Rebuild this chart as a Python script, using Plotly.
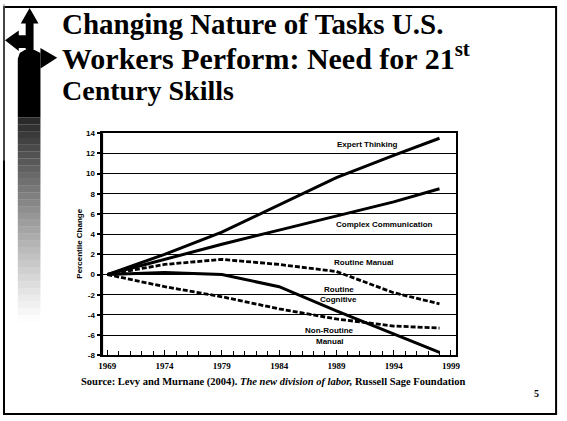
import plotly.graph_objects as go

W, H = 567, 421

# ---------------- data ----------------
years = [1969, 1974, 1979, 1984, 1989, 1994, 1998]
expert_thinking = [0, 2.0, 4.2, 6.9, 9.6, 11.8, 13.5]
complex_communication = [0, 1.5, 3.0, 4.4, 5.8, 7.2, 8.5]
routine_manual = [0, 1.0, 1.5, 1.0, 0.3, -1.8, -2.9]
routine_cognitive = [0, 0.2, 0.0, -1.2, -3.6, -5.9, -7.7]
non_routine_manual = [0, -1.2, -2.2, -3.4, -4.4, -5.1, -5.3]

x_tick_years = [1969, 1974, 1979, 1984, 1989, 1994, 1999]
y_ticks = [-8, -6, -4, -2, 0, 2, 4, 6, 8, 10, 12, 14]

series = [
    ("Expert Thinking", expert_thinking, "solid"),
    ("Complex Communication", complex_communication, "solid"),
    ("Routine Manual", routine_manual, "dash"),
    ("Routine Cognitive", routine_cognitive, "solid"),
    ("Non-Routine Manual", non_routine_manual, "dash"),
]

labels = [
    ("Expert Thinking", 1991.7, 12.9),
    ("Complex Communication", 1993.2, 5.0),
    ("Routine Manual", 1991.4, 1.2),
    ("Routine", 1989.2, -1.45),
    ("Cognitive", 1989.2, -2.5),
    ("Non-Routine", 1988.4, -5.5),
    ("Manual", 1988.4, -6.6),
]


def px(x):
    return x / W


def py(y):
    return 1 - y / H


fig = go.Figure()

for name, vals, dash in series:
    fig.add_trace(go.Scatter(
        x=years, y=vals, mode="lines", name=name,
        line=dict(color="black", width=3 if dash == "solid" else 2.8,
                  dash="solid" if dash == "solid" else "5px,2px"),
        showlegend=False, hoverinfo="skip",
    ))

label_font = dict(family="Liberation Sans Narrow, Liberation Sans, Arial", size=8, color="black")
annotations = []
for txt, lx, ly in labels:
    annotations.append(dict(x=lx, y=ly, xref="x", yref="y", text="<b>%s</b>" % txt,
                            showarrow=False, font=label_font, xanchor="center", yanchor="middle"))

annotations.append(dict(x=px(78), y=py(245), xref="paper", yref="paper",
                        text="<b>Percentile Change</b>", textangle=-90, showarrow=False,
                        xanchor="center", yanchor="middle",
                        font=dict(family="Liberation Sans Narrow, Liberation Sans, Arial", size=8, color="black")))

for txt, ty, fs in [("<b>Changing Nature of Tasks U.S.</b>", 20, 29),
                    ("<b>Workers Perform: Need for 21<sup>st</sup></b>", 53, 30),
                    ("<b>Century Skills</b>", 88, 28)]:
    annotations.append(dict(x=px(58), y=py(ty), xref="paper", yref="paper", text=txt,
                            showarrow=False, xanchor="left", yanchor="middle",
                            font=dict(family="Liberation Serif, Times New Roman, serif", size=fs, color="black")))

annotations.append(dict(x=px(274), y=py(386), xref="paper", yref="paper",
                        text="<b>Source: Levy and Murnane (2004). <i>The new division of labor,</i> Russell Sage Foundation</b>",
                        showarrow=False, xanchor="center", yanchor="middle",
                        font=dict(family="Liberation Serif, Times New Roman, serif", size=10.5, color="black")))
annotations.append(dict(x=px(541), y=py(398), xref="paper", yref="paper", text="<b>5</b>",
                        showarrow=False, xanchor="center", yanchor="middle",
                        font=dict(family="Liberation Serif, serif", size=10, color="black")))

shapes = []
shapes.append(dict(type="rect", xref="paper", yref="paper", x0=px(1), x1=px(561), y0=py(419), y1=py(3),
                   line=dict(color="black", width=2), fillcolor="rgba(0,0,0,0)", layer="below"))


def path(points):
    return "M " + " L ".join("%.5f,%.5f" % (px(a), py(b)) for a, b in points) + " Z"


sign_parts = [
    [(27, 4), (36, 20), (31, 20), (31, 50), (23, 50), (23, 20), (18, 20)],
    [(2, 37), (16, 27), (16, 32), (24, 32), (24, 45), (16, 45), (16, 48)],
    [(55, 55), (38, 66), (38, 45)],
    [(15, 56), (17, 50), (22, 47), (32, 47), (38, 50), (38, 116), (15, 116)],
]
for pts in sign_parts:
    shapes.append(dict(type="path", xref="paper", yref="paper", path=path(pts),
                       fillcolor="black", line=dict(width=0)))
n = 30
y0, y1 = 116, 325
for i in range(n):
    a = y0 + (y1 - y0) * i / n
    b = y0 + (y1 - y0) * (i + 1) / n
    op = max(0.0, 1 - (i + 0.5) / n) ** 1.1
    shapes.append(dict(type="rect", xref="paper", yref="paper", x0=px(15), x1=px(38),
                       y0=py(b), y1=py(a), fillcolor="rgba(0,0,0,%.3f)" % (op * 0.85),
                       line=dict(width=0)))
shapes.append(dict(type="line", xref="paper", yref="paper", x0=px(1), x1=px(1), y0=py(0), y1=py(160),
                   line=dict(color="#888", width=1)))
shapes.append(dict(type="line", xref="x domain", yref="y domain", x0=0, x1=0, y0=0, y1=1,
                   line=dict(color="black", width=3)))

fig.update_layout(
    width=W, height=H,
    margin=dict(l=0, r=0, t=0, b=0),
    paper_bgcolor="white", plot_bgcolor="white",
    annotations=annotations, shapes=shapes,
    xaxis=dict(domain=[px(100), px(459)], range=[1968.5, 1999.4],
               tickmode="array", tickvals=x_tick_years, ticktext=["<b>%d</b>" % v for v in x_tick_years],
               ticks="inside", ticklen=5, tickwidth=1.2, tickcolor="black",
               minor=dict(dtick=1, tick0=1969, ticks="inside", ticklen=4, tickwidth=1, tickcolor="black"),
               showgrid=False, zeroline=False,
               showline=True, mirror=True, linecolor="black", linewidth=2,
               tickfont=dict(family="Liberation Serif, Times New Roman, serif", size=9, color="black"),
               ticklabelstandoff=1),
    yaxis=dict(domain=[py(359), py(132)], range=[-8, 14],
               tickmode="array", tickvals=y_ticks, ticktext=["<b>%d</b>" % v for v in y_ticks],
               ticks="outside", ticklen=3, tickwidth=1.5, tickcolor="black",
               showgrid=True, gridcolor="black", gridwidth=1.4,
               zeroline=True, zerolinecolor="black", zerolinewidth=1.4,
               showline=True, mirror=True, linecolor="black", linewidth=2,
               tickfont=dict(family="Liberation Sans Narrow, Liberation Sans, Arial", size=8, color="black")),
)

post = """
document.documentElement.style.margin='0';
document.body.style.margin='0';
document.body.style.padding='0';
document.documentElement.style.overflow='hidden';
document.body.style.overflow='hidden';
"""
fig.write_html("out.html", config={"displayModeBar": False}, post_script=post)
